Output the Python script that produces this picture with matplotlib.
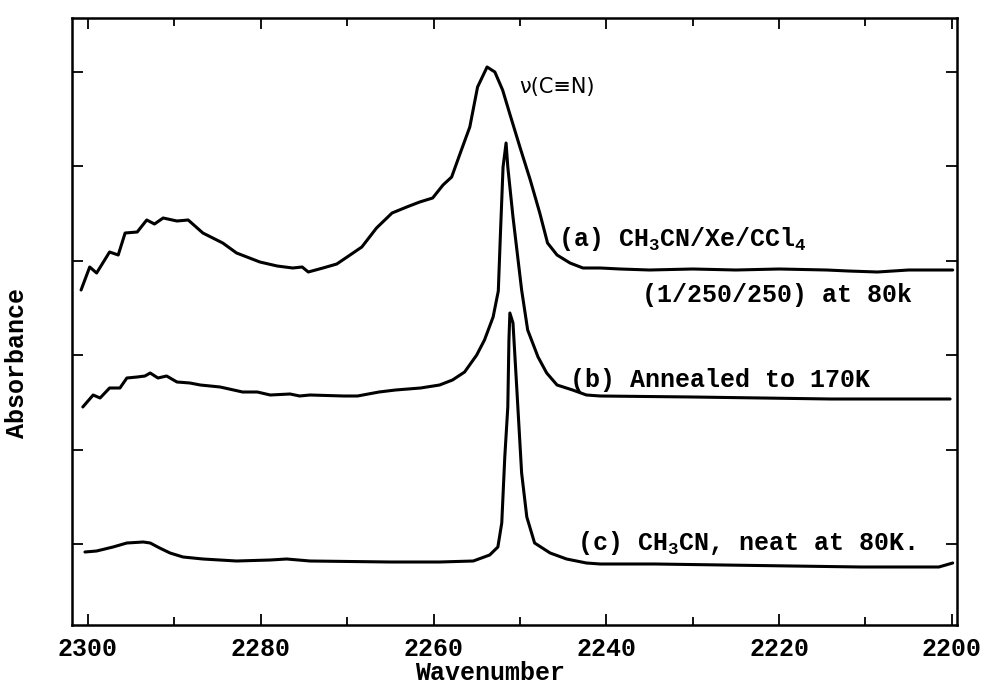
import numpy as np
import matplotlib
matplotlib.use("Agg")
import matplotlib.pyplot as plt

plt.rcParams["font.family"] = ["Liberation Mono", "DejaVu Sans"]
plt.rcParams["font.weight"] = "bold"
plt.rcParams["mathtext.fontset"] = "custom"
plt.rcParams["mathtext.rm"] = "Liberation Mono:bold"
plt.rcParams["mathtext.it"] = "Liberation Mono:bold"

# (a) CH3CN/Xe/CCl4 at 80 K
wn_a = [2300.8, 2299.8, 2299.0, 2297.5, 2296.5, 2295.7, 2294.3, 2293.2, 2292.3, 2291.3,
        2289.7, 2288.4, 2286.7, 2284.4, 2282.8, 2280.1, 2278.1, 2276.3, 2275.2, 2274.5,
        2272.8, 2271.2, 2270.0, 2268.3, 2266.6, 2264.8, 2263.1, 2261.6, 2260.1, 2258.9,
        2257.9, 2256.9, 2255.8, 2254.9, 2253.8, 2252.9, 2252.0, 2251.2, 2250.0, 2248.8,
        2247.7, 2246.8, 2245.7, 2244.2, 2242.7, 2240.7, 2238.4, 2235.0, 2230.0, 2225.0,
        2220.0, 2214.5, 2212.0, 2208.6, 2205.0, 2199.9]
abs_a = [33.5, 35.8, 35.2, 37.3, 37.0, 39.2, 39.3, 40.5, 40.1, 40.7,
         40.4, 40.5, 39.2, 38.2, 37.2, 36.3, 35.9, 35.7, 35.8, 35.3,
         35.7, 36.1, 36.8, 37.8, 39.7, 41.2, 41.8, 42.3, 42.7, 44.0,
         44.8, 47.2, 49.8, 53.8, 55.8, 55.3, 53.5, 51.2, 47.8, 44.5,
         41.2, 38.2, 37.0, 36.2, 35.7, 35.7, 35.6, 35.5, 35.6, 35.5,
         35.6, 35.5, 35.4, 35.3, 35.5, 35.5]

# (b) annealed to 170 K
wn_b = [2300.6, 2299.4, 2298.6, 2297.5, 2296.3, 2295.5, 2294.3, 2293.4, 2292.8, 2291.9,
        2290.9, 2289.7, 2288.2, 2287.0, 2284.7, 2282.1, 2280.4, 2278.9, 2276.6, 2275.5,
        2274.3, 2270.4, 2268.8, 2266.3, 2264.4, 2261.5, 2259.3, 2257.8, 2256.4, 2255.0,
        2254.1, 2253.1, 2252.5, 2252.25, 2251.95, 2251.6, 2251.4, 2250.8, 2249.8, 2249.1,
        2247.9, 2246.9, 2245.7, 2243.9, 2242.3, 2240.7, 2230.0, 2222.0, 2214.0, 2208.0,
        2200.2]
abs_b = [21.8, 23.0, 22.7, 23.7, 23.7, 24.7, 24.8, 24.9, 25.2, 24.7,
         24.9, 24.3, 24.2, 24.0, 23.8, 23.3, 23.3, 23.0, 23.1, 22.9,
         23.0, 22.9, 22.9, 23.3, 23.5, 23.7, 24.0, 24.5, 25.3, 27.0,
         28.5, 30.8, 33.4, 39.2, 45.8, 48.2, 45.8, 40.8, 33.5, 29.5,
         26.8, 25.2, 24.0, 23.5, 23.0, 22.9, 22.8, 22.7, 22.6, 22.6,
         22.6]

# (c) neat CH3CN at 80 K
wn_c = [2300.35, 2299.0, 2297.1, 2295.5, 2293.6, 2292.8, 2291.7, 2290.5, 2289.0, 2286.7,
        2282.8, 2278.9, 2277.0, 2274.3, 2265.0, 2259.3, 2255.4, 2253.5, 2252.55, 2252.1,
        2251.75, 2251.4, 2251.27, 2251.16, 2250.8, 2250.35, 2249.8, 2249.2, 2248.3, 2246.5,
        2244.6, 2242.3, 2240.7, 2234.4, 2218.5, 2210.5, 2201.5, 2199.9]
abs_c = [7.3, 7.4, 7.8, 8.2, 8.3, 8.2, 7.7, 7.2, 6.8, 6.6,
         6.4, 6.5, 6.6, 6.4, 6.3, 6.3, 6.4, 7.0, 7.8, 10.2,
         16.8, 21.8, 28.5, 31.2, 30.2, 23.5, 15.2, 10.8, 8.2, 7.2,
         6.6, 6.2, 6.1, 6.1, 5.9, 5.8, 5.8, 6.2]

x_ticks = np.arange(2300, 2199, -20)
x_minor = np.arange(2290, 2200, -20)

fig = plt.figure(figsize=(9.87, 6.88), dpi=100)
ax = fig.add_axes([72 / 987, 1 - 625 / 688, 885 / 987, 607 / 688])

for wn, ab in [(wn_a, abs_a), (wn_b, abs_b), (wn_c, abs_c)]:
    ax.plot(wn, ab, color="black", lw=2.2, solid_joinstyle="round",
            solid_capstyle="round")

ax.set_xlim(2301.85, 2199.4)
ax.set_ylim(0, 60.7)
ax.set_xticks(x_ticks)
ax.set_xticks(x_minor, minor=True)
ax.set_yticks(np.arange(8.1, 60, 9.45))
ax.set_yticklabels([])
ax.tick_params(which="both", direction="in", top=True, right=True,
               width=1.3, labelsize=18, pad=9)
ax.tick_params(which="major", length=8)
ax.tick_params(which="minor", length=6)
for s in ax.spines.values():
    s.set_linewidth(1.8)

ax.text(2245.6, 37.9, "(a) CH$_\\mathregular{3}$CN/Xe/CCl$_\\mathregular{4}$",
        fontsize=18, va="baseline", ha="left")
ax.text(2235.9, 32.3, "(1/250/250) at 80k", fontsize=18, va="baseline", ha="left")
ax.text(2244.2, 23.8, "(b) Annealed to 170K", fontsize=18, va="baseline", ha="left")
ax.text(2243.4, 7.5, "(c) CH$_\\mathregular{3}$CN, neat at 80K.",
        fontsize=18, va="baseline", ha="left")
ax.text(2250.1, 53.8, "ν(C≡N)", fontsize=15, family="DejaVu Sans",
        fontweight="normal", va="center", ha="left")

fig.text(490 / 987, 1 - 673 / 688, "Wavenumber", fontsize=18, ha="center", va="center")
fig.text(17 / 987, 1 - 363 / 688, "Absorbance", fontsize=18, ha="center", va="center",
         rotation=90)

fig.savefig("out.png", dpi=100)
